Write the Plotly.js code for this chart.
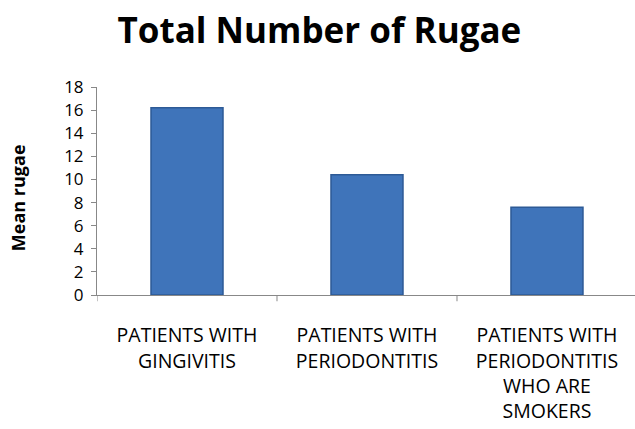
<!DOCTYPE html>
<html>
<head>
<meta charset="utf-8">
<script src="https://cdn.plot.ly/plotly-3.0.1.min.js"></script>
<style>html,body{margin:0;padding:0;background:#fff;}#chart{width:635px;height:429px;}</style>
</head>
<body>
<div id="chart"></div>
<script>
const categories = ["PATIENTS WITH<br>GINGIVITIS", "PATIENTS WITH<br>PERIODONTITIS", "PATIENTS WITH<br>PERIODONTITIS<br>WHO ARE<br>SMOKERS"];
const meanRugae = [16.2, 10.4, 7.6];
const yTicks = [0, 2, 4, 6, 8, 10, 12, 14, 16, 18];

const trace = {
  type: 'bar',
  x: [0, 1, 2],
  y: meanRugae,
  width: 0.4,
  marker: {color: '#3f74ba', line: {color: '#2d5a96', width: 1.5}},
  hoverinfo: 'skip'
};

const layout = {
  width: 635, height: 429,
  margin: {l: 97, r: 0, t: 87, b: 134},
  paper_bgcolor: '#fff', plot_bgcolor: '#fff',
  showlegend: false,
  title: {text: '<b>Total Number of Rugae</b>', x: 0.503, xanchor: 'center', y: 0.928, yanchor: 'middle',
          font: {family: 'Open Sans, sans-serif', size: 35, color: '#000'}},
  xaxis: {
    range: [-0.5, 2.489],
    tickvals: [0, 1, 2], ticktext: categories,
    ticks: '', showgrid: false, zeroline: false,
    showline: true, linecolor: '#888', linewidth: 1,
    ticklabelstandoff: 23,
    tickfont: {family: 'Open Sans, sans-serif', size: 19.5, color: '#000'},
    fixedrange: true
  },
  yaxis: {
    range: [0, 18], tickvals: yTicks,
    ticks: 'outside', ticklen: 5, tickcolor: '#888',
    showgrid: false, zeroline: false,
    showline: true, linecolor: '#888', linewidth: 1,
    ticklabelstandoff: 4,
    tickfont: {family: 'Open Sans, sans-serif', size: 17, color: '#000'},
    fixedrange: true
  },
  annotations: [{
    text: '<b>Mean rugae</b>', xref: 'paper', yref: 'paper', x: -0.147, y: 0.47, xanchor: 'center', yanchor: 'middle',
    textangle: -90, showarrow: false, font: {family: 'Open Sans, sans-serif', size: 18, color: '#000'}
  }],
  shapes: [0.5, 1.5].concat([-0.5]).map(v => ({
    type: 'line', xref: 'x', yref: 'paper', x0: v, x1: v, y0: 0, y1: -0.03,
    line: {color: '#888', width: 1}
  }))
};

Plotly.newPlot('chart', [trace], layout, {displayModeBar: false, staticPlot: true});
</script>
</body>
</html>
